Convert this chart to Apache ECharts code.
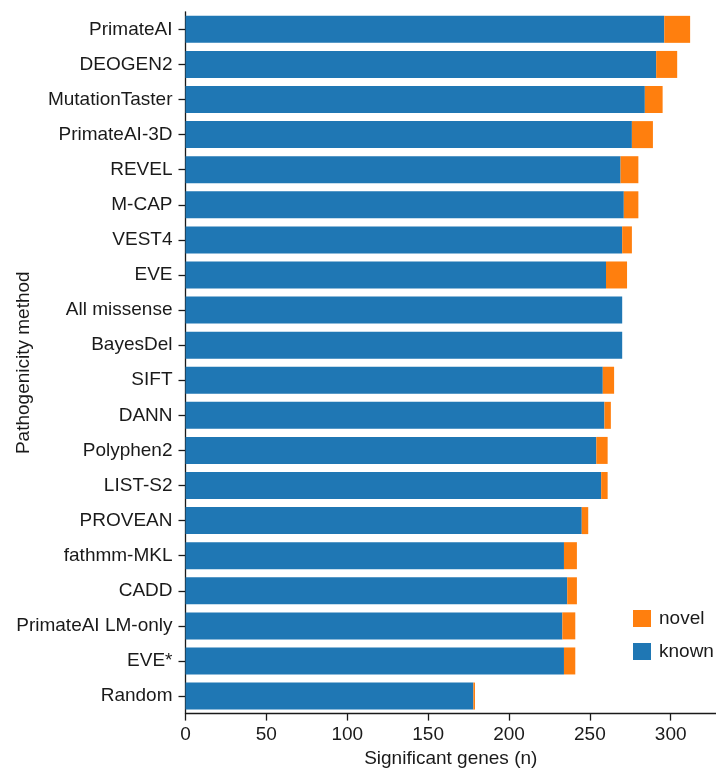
<!DOCTYPE html>
<html>
<head>
<meta charset="utf-8">
<script src="https://cdn.jsdelivr.net/npm/echarts@6/dist/echarts.min.js"></script>
<style>
  html, body { margin: 0; padding: 0; background: #fff; }
  #chart { width: 716px; height: 771px; }
</style>
</head>
<body>
<div id="chart"></div>
<script>
// Pathogenicity methods, ordered from top to bottom
const methods = [
  'PrimateAI', 'DEOGEN2', 'MutationTaster', 'PrimateAI-3D', 'REVEL',
  'M-CAP', 'VEST4', 'EVE', 'All missense', 'BayesDel',
  'SIFT', 'DANN', 'Polyphen2', 'LIST-S2', 'PROVEAN',
  'fathmm-MKL', 'CADD', 'PrimateAI LM-only', 'EVE*', 'Random'
];
// Significant genes already known
const known = [296, 291, 284, 276, 269, 271, 270, 260, 270, 270,
               258, 259, 254, 257, 245, 234, 236, 233, 234, 178];
// Newly identified significant genes
const novel = [16, 13, 11, 13, 11, 9, 6, 13, 0, 0,
               7, 4, 7, 4, 4, 8, 6, 8, 7, 1];

const xMax = 328;
const xStep = 50;

const FONT = 'Liberation Sans, Arial, Helvetica, sans-serif';
const INK = '#1a1a1a';
const FS = 19;

const chart = echarts.init(document.getElementById('chart'), null, { renderer: 'canvas' });

chart.setOption({
  animation: false,
  textStyle: { fontFamily: FONT, color: INK },
  grid: {
    left: 185.5, right: 0, top: 11.8, bottom: 57.4,
    containLabel: false,
    outerBoundsMode: 'none'
  },
  legend: {
    data: ['novel', 'known'],
    orient: 'vertical',
    left: 633,
    top: 609,
    padding: 0,
    icon: 'rect',
    itemWidth: 18,
    itemHeight: 17,
    itemGap: 14,
    textStyle: { fontFamily: FONT, fontSize: FS, color: INK, padding: [0, 0, 0, 3] }
  },
  xAxis: {
    type: 'value',
    min: 0,
    max: xMax,
    interval: xStep,
    name: 'Significant genes (n)',
    nameLocation: 'middle',
    nameGap: 36,
    nameMoveOverlap: false,
    nameTextStyle: { fontFamily: FONT, fontSize: FS, color: INK },
    axisLine: { show: true, lineStyle: { color: INK, width: 1.3 } },
    axisTick: { show: true, length: 7, lineStyle: { color: INK, width: 1.3 } },
    axisLabel: { fontFamily: FONT, fontSize: FS, color: INK, margin: 12, showMaxLabel: false },
    splitLine: { show: false }
  },
  yAxis: {
    type: 'category',
    data: methods,
    inverse: true,
    name: 'Pathogenicity method',
    nameLocation: 'middle',
    nameRotate: 90,
    nameGap: 152,
    nameMoveOverlap: false,
    nameTextStyle: { fontFamily: FONT, fontSize: FS, color: INK },
    axisLine: { show: true, lineStyle: { color: INK, width: 1.3 } },
    axisTick: { show: true, length: 7, alignWithLabel: true, lineStyle: { color: INK, width: 1.3 } },
    axisLabel: { fontFamily: FONT, fontSize: FS, color: INK, margin: 13 }
  },
  series: [
    {
      name: 'known',
      type: 'bar',
      stack: 'genes',
      barWidth: 27,
      itemStyle: { color: '#1f77b4' },
      data: known
    },
    {
      name: 'novel',
      type: 'bar',
      stack: 'genes',
      barWidth: 27,
      itemStyle: { color: '#ff7f0e' },
      data: novel
    }
  ]
});
</script>
</body>
</html>
